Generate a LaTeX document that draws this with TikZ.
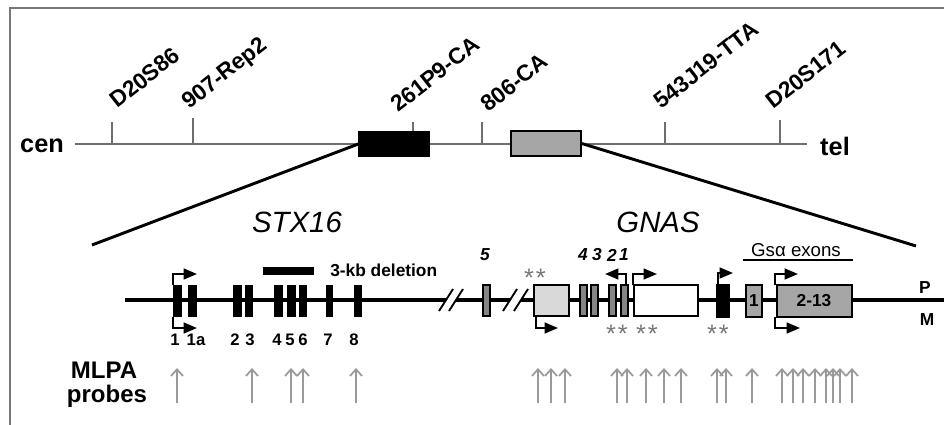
\documentclass[tikz,border=0pt]{standalone}
\usepackage{fontspec}
\setmainfont{Liberation Sans}
\usetikzlibrary{arrows.meta}
\definecolor{chromgray}{HTML}{6E6E6E}
\definecolor{probegray}{HTML}{9A9A9A}
\definecolor{stargray}{HTML}{777777}
\definecolor{asgray}{HTML}{858585}
\definecolor{gsgray}{HTML}{A6A6A6}
\definecolor{nespgray}{HTML}{D9D9D9}
\definecolor{framegray}{HTML}{777777}

\begin{document}
\begin{tikzpicture}[
  x=0.75pt, y=-0.75pt,
  font=\bfseries,
  chrom/.style={draw=chromgray, line width=1.1pt},
  marker/.style={rotate=38, anchor=base west, inner sep=0pt, font=\fontsize{17}{19}\selectfont\bfseries},
  endlabel/.style={inner sep=0pt, font=\fontsize{19}{21}\selectfont\bfseries},
  genename/.style={inner sep=0pt, font=\fontsize{22}{24}\selectfont\itshape},
  zoomline/.style={line width=2.2pt},
  gene/.style={line width=2.6pt},
  cut/.style={line width=1.4pt},
  boxline/.style={draw=black, line width=1.1pt},
  exnum/.style={inner sep=0pt, font=\fontsize{12.5}{14}\selectfont\bfseries},
  asnum/.style={inner sep=0pt, font=\fontsize{13}{14}\selectfont\bfseries\itshape},
  boxtext/.style={inner sep=0pt, font=\fontsize{13}{14}\selectfont\bfseries},
  star/.style={inner sep=0pt, text=stargray, font=\fontsize{19}{19}\selectfont},
  prom/.style={line width=1.6pt, -{Triangle[length=10pt,width=8pt]}},
  probe/.style={draw=probegray, line width=1.3pt, -{Straight Barb[length=5pt,width=9pt]}}
]
\useasboundingbox (0,0) rectangle (944,424);
\clip (0,0) rectangle (944,424);
\draw[draw=framegray, line width=1.3pt] (10,8) rectangle (970,450);

% chromosome
\draw[chrom] (75,144) -- (807,144);
\foreach \x/\t in {112/122, 193/118, 482/122, 665/122, 780/120}
  \draw[chrom] (\x,144) -- (\x,\t);
\draw[chrom] (413,132) -- (413,122);
\node[boxline, fill=black, minimum width=52.5pt, minimum height=18pt, inner sep=0pt] (stxbox) at (394,144) {};
\node[boxline, fill=gsgray, minimum width=52.5pt, minimum height=18.5pt, inner sep=0pt] (gnasbox) at (546,143.5) {};
\node[endlabel] (cen) at (42,146) {cen};
\node[endlabel] (tel) at (835,146) {tel};
\node[marker] (m1) at (117,109) {D20S86};
\node[marker] (m2) at (189,110) {907-Rep2};
\node[marker] (m3) at (398,113) {261P9-CA};
\node[marker] (m4) at (488,113) {806-CA};
\node[marker] (m5) at (661,110) {543J19-TTA};
\node[marker] (m6) at (773,110) {D20S171};

% zoom lines
\coordinate (stxend) at (92,245);
\coordinate (gnasend) at (916,246);
\draw[zoomline] (stxbox.west) -- (stxend);
\draw[zoomline] (gnasbox.east) -- (gnasend);
\node[genename] (stx) at (297,222) {STX16};
\node[genename] (gnas) at (658,222) {GNAS};

% gene line with breaks
\draw[gene] (125,300) -- (446,300);
\draw[gene] (456,300) -- (510,300);
\draw[gene] (521,300) -- (944,300);
\foreach \x in {446,456,510,521}
  \draw[cut] ({\x-7},311) -- ({\x+7},289);

% STX16 exons
\foreach \a/\b in {173/182, 188/197, 233/242, 245/253, 274/283, 287/296, 299/307, 326/333, 354/362}
  \fill (\a,285) rectangle (\b,317);
\fill (263,267) rectangle (314,275);
\node[boxtext, anchor=west] (del) at (330,270) {3-kb deletion};
\foreach \x/\n in {175/1, 196/1a, 235/2, 250/3, 277/4, 290/5, 303/6, 328/7, 354/8}
  \node[exnum] (n\n) at (\x,340) {\n};
\draw[prom] (173,285) |- (197,274);
\draw[prom] (173,317) |- (197,328);

% GNAS exons
\filldraw[boxline, fill=asgray] (483,285) rectangle (490,316);
\node[asnum] (a5) at (485,255) {5};
\filldraw[boxline, fill=nespgray] (534,285) rectangle (569,316);
\foreach \a/\b in {580/587, 591/598, 609/616, 621/628}
  \filldraw[boxline, fill=asgray] (\a,285) rectangle (\b,316);
\foreach \x/\n in {583/4, 597/3, 612/2, 624/1}
  \node[asnum] (as\n) at (\x,255) {\n};
\filldraw[boxline, fill=white] (634,285) rectangle (698,316);
\filldraw[boxline, fill=black] (717,285) rectangle (729,317);
\filldraw[boxline, fill=gsgray] (746,285) rectangle (762,317);
\filldraw[boxline, fill=gsgray] (777,285) rectangle (852,317);
\node[boxtext] (gs1) at (754,301) {1};
\node[boxtext] (gs2) at (814,301) {2-13};
\node[inner sep=0pt, font=\fontsize{14}{16}\selectfont] (gslab) at (796,250) {Gsα exons};
\draw[line width=1.2pt] (743,260) -- (853,260);
\node[boxtext] (pat) at (925,288) {P};
\node[boxtext] (mat) at (927,320) {M};

% promoters
\draw[prom] (536,316) |- (558,328);
\draw[prom] (626,285) |- (605,274);
\draw[prom] (633,285) |- (657,274);
\draw[prom] (718,285) |- (733,273);
\draw[prom] (775,285) |- (798,274);
\draw[prom] (775,317) |- (800,328);

% methylation marks
\node[star] (s1) at (535,278) {*\kern1.5pt*};
\node[star] (s2) at (617,334) {*\kern1.5pt*};
\node[star] (s3) at (647,334) {*\kern1.5pt*};
\node[star] (s4) at (718,334) {*\kern1.5pt*};

% MLPA probes
\node[inner sep=0pt, font=\fontsize{18}{20}\selectfont\bfseries] (mlpa) at (104,370) {MLPA};
\node[inner sep=0pt, font=\fontsize{18}{20}\selectfont\bfseries] (probes) at (107,396) {probes};
\foreach \x in {177, 252, 291, 303, 356, 538, 551, 565, 617, 627, 646, 664, 681, 717, 726, 752, 782, 793, 803, 815, 826, 833, 840, 852}
  \draw[probe] (\x,403) -- (\x,368);
\end{tikzpicture}
\end{document}
